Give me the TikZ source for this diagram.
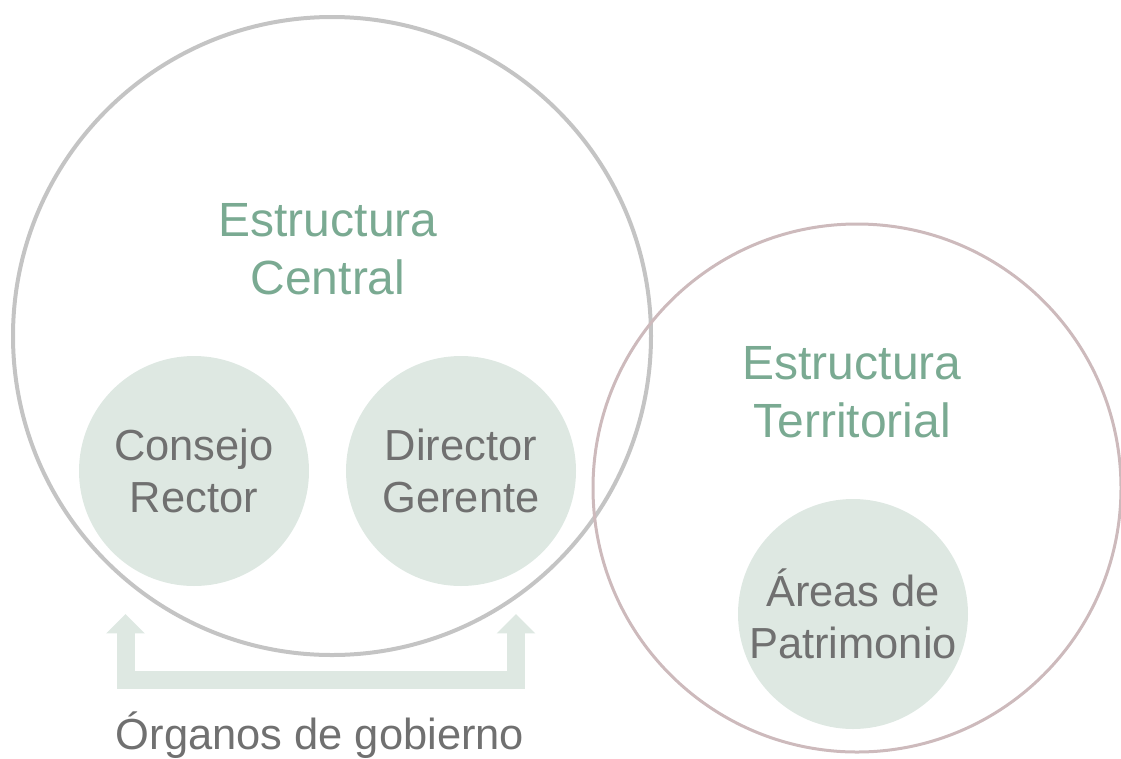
\documentclass[tikz,border=0pt]{standalone}
\usepackage{fontspec}
\setmainfont{Liberation Sans}
\usetikzlibrary{arrows.meta}

\definecolor{titlegreen}{RGB}{122,170,146}
\definecolor{labelgray}{RGB}{112,112,112}
\definecolor{softfill}{RGB}{222,232,226}
\definecolor{ringgray}{RGB}{196,196,196}
\definecolor{ringrose}{RGB}{205,186,188}

\tikzset{
  smallc/.style={circle, fill=softfill, minimum size=172.5pt, inner sep=0pt,
    align=center, text=labelgray, font=\fontsize{32.6}{39}\selectfont},
  titletext/.style={align=center, text=titlegreen, inner sep=0.75pt,
    font=\fontsize{36}{43.5}\selectfont},
}

\begin{document}
\begin{tikzpicture}[x=0.75pt,y=0.75pt,yscale=-1]
\useasboundingbox (0,0) rectangle (1121,758);

%Shape: Circle [central]
\draw [color=ringgray, line width=3pt] (332,336) circle (319);
%Shape: Circle [territorial]
\draw [color=ringrose, line width=2.25pt] (857,488) circle (264);

% Small circles
\node [smallc] (consejo) at (194,471) {Consejo\\Rector};
\node [smallc] (director) at (461,471) {Director\\Gerente};
\node [smallc] (areas) at (853,614) {Áreas de\\Patrimonio};

% Text Node
\node [titletext] (central) at (328,249) {Estructura\\Central};
% Text Node
\node [titletext] (territorial) at (852,392) {Estructura\\Territorial};
% Text Node
\node [text=labelgray, inner sep=0.75pt, font=\fontsize{32.6}{39}\selectfont] (organos) at (320,735) {Órganos de gobierno};

%Bracket arrow
\coordinate (ltip) at (125.5,614);
\coordinate (rtip) at (516,614);
\draw [color=softfill, line width=13.5pt, line join=miter,
  {Triangle[width=28pt,length=14.5pt]}-{Triangle[width=28pt,length=14.5pt]}]
  (ltip) -- (ltip |- 0,680) -- (rtip |- 0,680) -- (rtip);

\end{tikzpicture}
\end{document}
